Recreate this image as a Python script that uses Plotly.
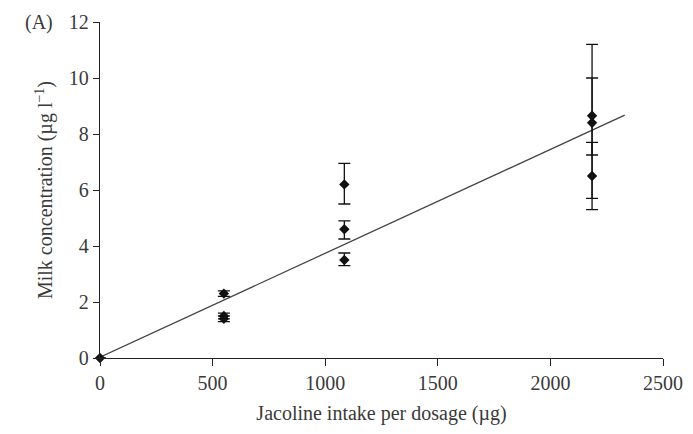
import plotly.graph_objects as go

# Data
dose = [0, 550, 550, 550, 1085, 1085, 1085, 2185, 2185, 2185]
conc = [0.0, 2.3, 1.5, 1.4, 6.2, 4.6, 3.5, 8.65, 8.4, 6.5]
err_plus = [0, 0.1, 0.1, 0.1, 0.75, 0.3, 0.25, 1.35, 2.8, 1.2]
err_minus = [0, 0.1, 0.1, 0.1, 0.7, 0.35, 0.2, 1.4, 3.1, 0.8]

fit_slope = 0.00371
fit_intercept = 0.03
fit_x = [0, 2330]

x_ticks = [0, 500, 1000, 1500, 2000, 2500]
y_ticks = [0, 2, 4, 6, 8, 10, 12]

fit_y = [fit_intercept + fit_slope * v for v in fit_x]

font_family = "Liberation Serif, Times New Roman, serif"
txt = "#3a3a3a"

fig = go.Figure()
fig.add_trace(go.Scatter(
    x=fit_x, y=fit_y, mode="lines",
    line=dict(color="#444444", width=1.3),
    showlegend=False, hoverinfo="skip"))
fig.add_trace(go.Scatter(
    x=dose, y=conc, mode="markers", cliponaxis=False,
    marker=dict(symbol="diamond", size=8, color="#111111"),
    error_y=dict(type="data", symmetric=False, array=err_plus, arrayminus=err_minus,
                 color="#111111", thickness=1.3, width=6),
    showlegend=False))

# page body has an 8px margin, so the figure is sized/margined to compensate
fig.update_layout(
    width=685, height=426,
    margin=dict(l=92, r=30, t=14, b=76),
    paper_bgcolor="white", plot_bgcolor="white",
    font=dict(family=font_family, size=20, color=txt),
    xaxis=dict(range=[0, 2500], tickvals=x_ticks, ticks="outside", ticklen=7,
               tickcolor="#222", showline=True, linecolor="#222", linewidth=1.3,
               showgrid=False, zeroline=False, automargin=False,
               title=dict(text="Jacoline intake per dosage (µg)", standoff=12,
                          font=dict(size=20, family=font_family, color=txt)),
               tickfont=dict(size=20, family=font_family, color=txt)),
    yaxis=dict(range=[0, 12], tickvals=y_ticks, ticks="outside", ticklen=6,
               tickcolor="#222", showline=True, linecolor="#222", linewidth=1.3,
               showgrid=False, zeroline=False, automargin=False,
               title=dict(text="Milk concentration (µg l<sup>−1</sup>)", standoff=10,
                          font=dict(size=20, family=font_family, color=txt)),
               tickfont=dict(size=20, family=font_family, color=txt)),
    annotations=[dict(text="(A)", xref="paper", yref="paper", x=-0.08, y=1.0,
                      xanchor="right", yanchor="middle", showarrow=False,
                      font=dict(size=20, family=font_family, color=txt))],
)

fig.write_html("out.html")
